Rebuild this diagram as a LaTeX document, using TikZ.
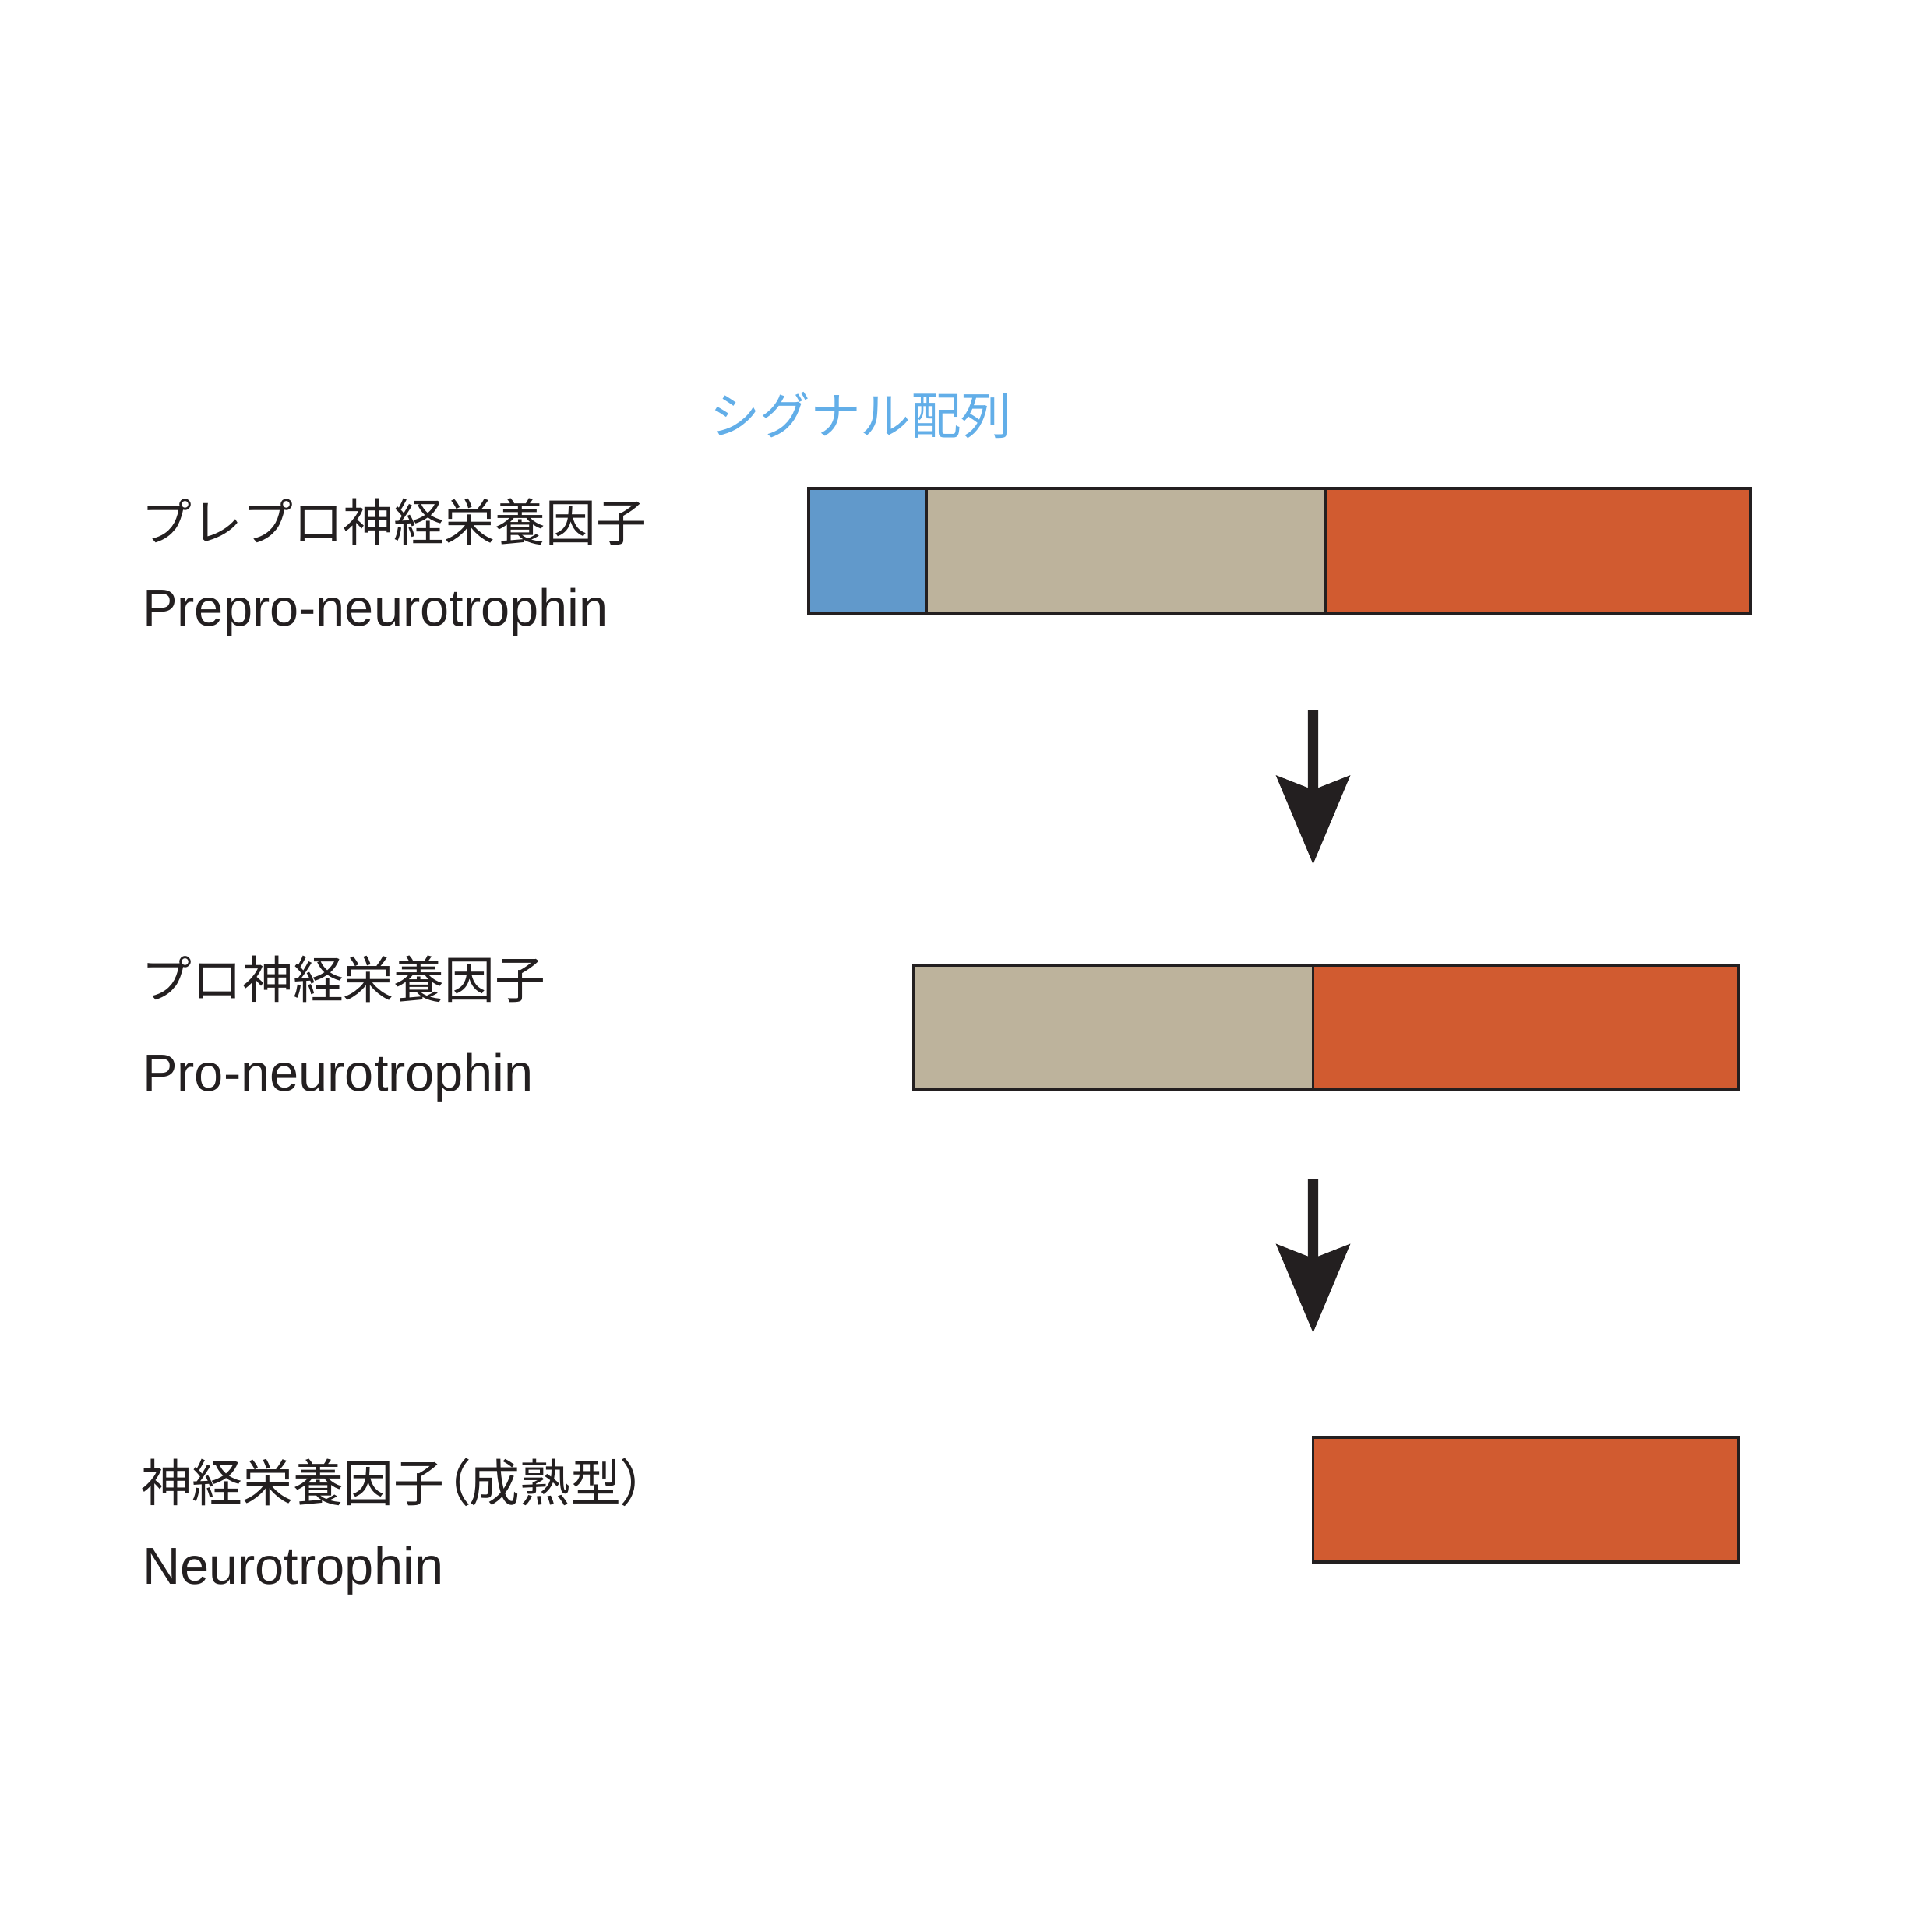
\documentclass[tikz,border=0pt]{standalone}
\usepackage{fontspec}
\setmainfont{Liberation Sans}
\newfontfamily\jpf{Noto Sans CJK JP}
\newfontfamily\jpfp[RawFeature=+palt]{Noto Sans CJK JP}
\definecolor{ink}{HTML}{231F20}
\definecolor{sigblue}{HTML}{6199CB}
\definecolor{protan}{HTML}{BDB39C}
\definecolor{matorange}{HTML}{D15B30}
\definecolor{labelblue}{HTML}{62AEE8}
\tikzset{
  seg/.style={draw=ink, line width=0.7pt},
  jlabel/.style={anchor=base west, inner sep=0pt, text=ink, font=\jpf\fontsize{11.65pt}{13pt}\selectfont},
  elabel/.style={anchor=base west, inner sep=0pt, text=ink, font=\fontsize{12pt}{14pt}\selectfont},
  procarrow/.style={draw=ink, fill=ink}
}
\begin{document}
\begin{tikzpicture}[x=0.01cm, y=-0.01cm]
\useasboundingbox (0,0) rectangle (1567,1567);
% row 1
\node[jlabel] (j1) at (114,439) {プレプロ神経栄養因子};
\node[elabel] (e1) at (115,508) {Prepro-neurotrophin};
\node[anchor=base west, inner sep=0pt, text=labelblue, font=\jpf\fontsize{11.6pt}{13pt}\selectfont] (sig) at (575,352) {シグナル配列};
\filldraw[seg, fill=sigblue] (656,396) rectangle (751,497);
\filldraw[seg, fill=protan] (751,396) rectangle (1075,497);
\filldraw[seg, fill=matorange] (1075,396) rectangle (1420,497);
% arrow 1
\fill[procarrow] (1061.5,577) -- (1068.5,577) -- (1068.5,640) -- (1094,630) -- (1065,699) -- (1036,630) -- (1061.5,640) -- cycle;
% row 2
\node[jlabel] (j2) at (114,810) {プロ神経栄養因子};
\node[elabel] (e2) at (115,885) {Pro-neurotrophin};
\filldraw[seg, fill=protan] (741,783) rectangle (1065,884);
\filldraw[seg, fill=matorange] (1065,783) rectangle (1410,884);
% arrow 2
\fill[procarrow] (1061.5,957) -- (1068.5,957) -- (1068.5,1020) -- (1094,1010) -- (1065,1079) -- (1036,1010) -- (1061.5,1020) -- cycle;
% row 3
\node[jlabel] (j3) at (114,1218) {神経栄養因子{\jpfp （成熟型）}};
\node[elabel] (e3) at (115,1285) {Neurotrophin};
\filldraw[seg, fill=matorange] (1065,1166) rectangle (1410,1267);
\end{tikzpicture}
\end{document}
